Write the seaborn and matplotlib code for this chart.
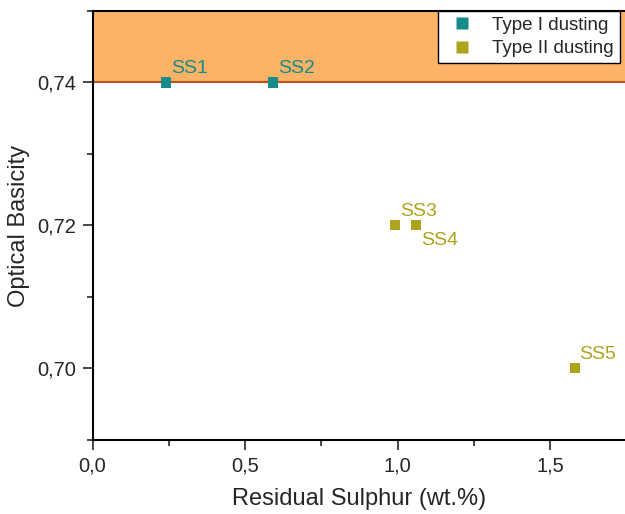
import numpy as np
import pandas as pd
import matplotlib
matplotlib.use('Agg')
import matplotlib.pyplot as plt
import matplotlib.ticker as mticker
import seaborn as sns

# data
samples = ['SS1', 'SS2', 'SS3', 'SS4', 'SS5']
sulphur = [0.24, 0.59, 0.99, 1.06, 1.58]
basicity = [0.74, 0.74, 0.72, 0.72, 0.70]
dusting = ['Type I dusting', 'Type I dusting', 'Type II dusting',
           'Type II dusting', 'Type II dusting']
# label offsets in points (dx, dy)
label_offsets = [(4, 4), (4, 4), (4, 4), (4, -5), (3, 4)]

colors = {'Type I dusting': '#178A8A', 'Type II dusting': '#ABA41C'}

df = pd.DataFrame({'sample': samples, 'S': sulphur, 'OB': basicity, 'type': dusting})

sns.set_style('ticks')
plt.rcParams['font.family'] = ['Liberation Sans', 'DejaVu Sans']

fig = plt.figure(figsize=(6.25, 5.14), dpi=100)
ax = fig.add_axes([0.148, 0.144, 0.852, 0.8346])

ax.set_xlim(0, 1.745)
ax.set_ylim(0.69, 0.75)

# shaded band above 0.74
ax.axhspan(0.74, 0.75, color='#FDB366', zorder=0, lw=0)
ax.axhline(0.74, color='#B5541A', lw=1.5, zorder=1)

sns.scatterplot(data=df, x='S', y='OB', hue='type', palette=colors, marker='s',
                s=52, edgecolor='none', ax=ax, zorder=3)

for name, x, y, t, (dx, dy) in zip(samples, sulphur, basicity, dusting, label_offsets):
    ax.annotate(name, (x, y), xytext=(dx, dy), textcoords='offset points',
                color=colors[t], fontsize=14, ha='left', va='bottom' if dy > 0 else 'top')

ax.xaxis.set_major_locator(mticker.MultipleLocator(0.5))
ax.xaxis.set_minor_locator(mticker.MultipleLocator(0.25))
ax.yaxis.set_major_locator(mticker.MultipleLocator(0.02))
ax.yaxis.set_minor_locator(mticker.MultipleLocator(0.01))
ax.xaxis.set_major_formatter(mticker.FuncFormatter(lambda v, p: f'{v:.1f}'.replace('.', ',')))
ax.yaxis.set_major_formatter(mticker.FuncFormatter(lambda v, p: f'{v:.2f}'.replace('.', ',')))

ax.tick_params(which='major', direction='out', length=7, width=1.2, labelsize=14.5, pad=5)
ax.tick_params(which='minor', direction='out', length=4, width=1.2)

for side in ['left', 'bottom', 'top']:
    ax.spines[side].set_linewidth(1.5)
    ax.spines[side].set_color('black')
ax.spines['right'].set_visible(False)

ax.set_xlabel('Residual Sulphur (wt.%)', fontsize=17, labelpad=9)
ax.set_ylabel('Optical Basicity', fontsize=17, labelpad=5)

handles, labels = ax.get_legend_handles_labels()
leg = ax.legend(handles, labels, loc='upper left', bbox_to_anchor=(438 / 625, 1 - 11 / 514),
                bbox_transform=fig.transFigure, fontsize=13.5, frameon=True, fancybox=False,
                borderaxespad=0, handletextpad=0.6, borderpad=0.3, labelspacing=0.35,
                handlelength=2.0, markerscale=1.2)
leg.get_frame().set_edgecolor('black')
leg.get_frame().set_linewidth(1.0)
leg.get_frame().set_alpha(1)

fig.savefig('out.png', dpi=100)
